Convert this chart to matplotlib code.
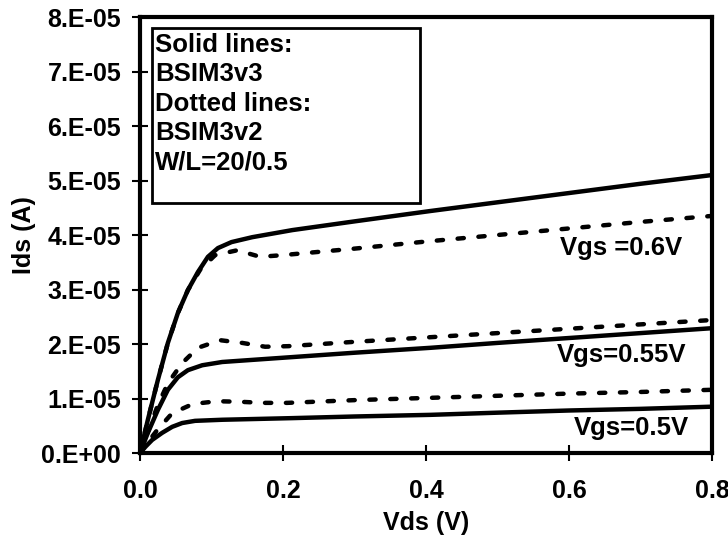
import matplotlib
matplotlib.use('Agg')
import matplotlib.pyplot as plt
from matplotlib.patches import Rectangle

plt.rcParams['font.family'] = ['Liberation Sans', 'DejaVu Sans']
plt.rcParams['font.weight'] = 'bold'
plt.rcParams['font.size'] = 18

# Vds (V) and Ids (A)
vds_06_v3 = [0.0, 0.011, 0.025, 0.039, 0.053, 0.067, 0.081, 0.095, 0.109, 0.128, 0.157, 0.213, 0.3, 0.406, 0.5, 0.6, 0.7, 0.8]
ids_06_v3 = [0.0, 0.61e-5, 1.34e-5, 2.02e-5, 2.57e-5, 2.99e-5, 3.32e-5, 3.6e-5, 3.76e-5, 3.87e-5, 3.96e-5, 4.09e-5, 4.25e-5, 4.44e-5, 4.6e-5, 4.77e-5, 4.94e-5, 5.1e-5]
vds_06_v2 = [0.0, 0.011, 0.025, 0.039, 0.053, 0.067, 0.084, 0.105, 0.136, 0.168, 0.199, 0.3, 0.4, 0.5, 0.6, 0.7, 0.8]
ids_06_v2 = [0.0, 0.61e-5, 1.34e-5, 2.02e-5, 2.57e-5, 2.99e-5, 3.36e-5, 3.63e-5, 3.72e-5, 3.6e-5, 3.63e-5, 3.75e-5, 3.88e-5, 4.0e-5, 4.12e-5, 4.24e-5, 4.35e-5]

vds_055_v3 = [0.0, 0.011, 0.025, 0.039, 0.053, 0.067, 0.087, 0.115, 0.213, 0.3, 0.406, 0.5, 0.6, 0.7, 0.8]
ids_055_v3 = [0.0, 0.37e-5, 0.79e-5, 1.16e-5, 1.39e-5, 1.52e-5, 1.61e-5, 1.67e-5, 1.76e-5, 1.84e-5, 1.93e-5, 2.02e-5, 2.11e-5, 2.2e-5, 2.29e-5]
vds_055_v2 = [0.0, 0.012, 0.025, 0.039, 0.059, 0.081, 0.112, 0.143, 0.175, 0.207, 0.3, 0.4, 0.5, 0.6, 0.7, 0.8]
ids_055_v2 = [0.0, 0.42e-5, 0.88e-5, 1.28e-5, 1.65e-5, 1.93e-5, 2.07e-5, 2.02e-5, 1.95e-5, 1.96e-5, 2.04e-5, 2.12e-5, 2.2e-5, 2.28e-5, 2.36e-5, 2.44e-5]

vds_05_v3 = [0.0, 0.008, 0.017, 0.031, 0.045, 0.059, 0.077, 0.115, 0.213, 0.3, 0.406, 0.5, 0.6, 0.7, 0.8]
ids_05_v3 = [0.0, 0.12e-5, 0.24e-5, 0.37e-5, 0.48e-5, 0.55e-5, 0.59e-5, 0.61e-5, 0.64e-5, 0.67e-5, 0.7e-5, 0.74e-5, 0.78e-5, 0.81e-5, 0.85e-5]
vds_05_v2 = [0.0, 0.011, 0.024, 0.045, 0.074, 0.108, 0.14, 0.172, 0.206, 0.3, 0.4, 0.5, 0.6, 0.7, 0.8]
ids_05_v2 = [0.0, 0.2e-5, 0.42e-5, 0.73e-5, 0.9e-5, 0.95e-5, 0.94e-5, 0.92e-5, 0.92e-5, 0.97e-5, 1.01e-5, 1.05e-5, 1.09e-5, 1.12e-5, 1.16e-5]

y_ticks = [0e-5, 1e-5, 2e-5, 3e-5, 4e-5, 5e-5, 6e-5, 7e-5, 8e-5]
y_tick_labels = ['0.E+00', '1.E-05', '2.E-05', '3.E-05', '4.E-05', '5.E-05', '6.E-05', '7.E-05', '8.E-05']
x_ticks = [0.0, 0.2, 0.4, 0.6, 0.8]
x_tick_labels = ['0.0', '0.2', '0.4', '0.6', '0.8']

fig = plt.figure(figsize=(7.28, 5.45), dpi=100)
ax = fig.add_axes([0.1923, 0.1688, 0.7857, 0.8])

solid = dict(color='black', lw=3.2, solid_capstyle='round', solid_joinstyle='round')
dotted = dict(color='black', lw=3.2, linestyle=(0, (1.4, 3.3)), dash_capstyle='round')

ax.plot(vds_06_v3, ids_06_v3, **solid)
ax.plot(vds_06_v2, ids_06_v2, **dotted)
ax.plot(vds_055_v3, ids_055_v3, **solid)
ax.plot(vds_055_v2, ids_055_v2, **dotted)
ax.plot(vds_05_v3, ids_05_v3, **solid)
ax.plot(vds_05_v2, ids_05_v2, **dotted)

ax.set_xlim(0, 0.8)
ax.set_ylim(0, 8e-5)
ax.set_xticks(x_ticks)
ax.set_xticklabels(x_tick_labels)
ax.set_yticks(y_ticks)
ax.set_yticklabels(y_tick_labels)
ax.tick_params(direction='inout', length=11, width=1.5)
ax.tick_params(axis='y', pad=8)
ax.tick_params(axis='x', pad=13)

for s in ax.spines.values():
    s.set_linewidth(3)

ax.set_xlabel('Vds (V)', fontweight='bold', labelpad=6)
ax.set_ylabel('Ids (A)', fontweight='bold', labelpad=4)

# legend box with text
ax.add_patch(Rectangle((0.021, 0.573), 0.4685, 0.402, transform=ax.transAxes,
                       facecolor='white', edgecolor='black', lw=2, zorder=3))
ax.text(0.027, 0.963, 'Solid lines:\nBSIM3v3\nDotted lines:\nBSIM3v2\nW/L=20/0.5',
        transform=ax.transAxes, ha='left', va='top', fontsize=18.5, fontweight='bold',
        linespacing=1.28, zorder=4)

ax.text(0.673, 3.76e-5, 'Vgs =0.6V', ha='center', va='center', fontsize=18.5, fontweight='bold')
ax.text(0.673, 1.8e-5, 'Vgs=0.55V', ha='center', va='center', fontsize=18.5, fontweight='bold')
ax.text(0.687, 0.46e-5, 'Vgs=0.5V', ha='center', va='center', fontsize=18.5, fontweight='bold')

fig.savefig('out.png', dpi=100)
